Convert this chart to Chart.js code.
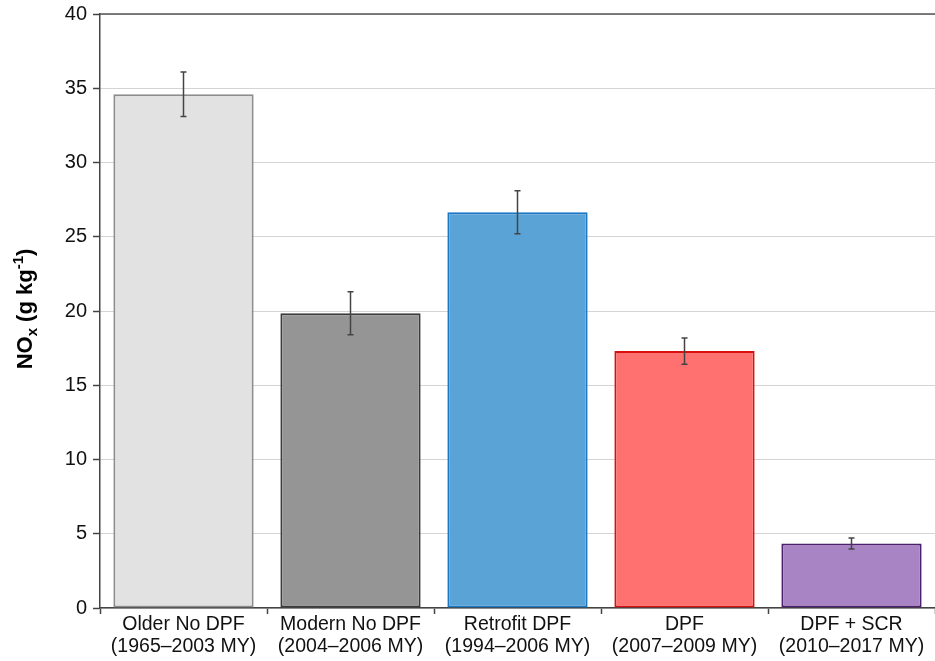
<!DOCTYPE html>
<html>
<head>
<meta charset="utf-8">
<script src="https://cdn.jsdelivr.net/npm/chart.js@4/dist/chart.umd.min.js"></script>
<style>
  html, body { margin: 0; padding: 0; background: #fff; }
  #wrap { width: 935px; height: 661px; }
</style>
</head>
<body>
<div id="wrap"><canvas id="chart" width="935" height="661"></canvas></div>
<script>
const categories = [
    ['Older No DPF', '(1965\u20132003 MY)'],
    ['Modern No DPF', '(2004\u20132006 MY)'],
    ['Retrofit DPF', '(1994\u20132006 MY)'],
    ['DPF', '(2007\u20132009 MY)'],
    ['DPF + SCR', '(2010\u20132017 MY)']
];
const noxMean = [34.6, 19.85, 26.65, 17.3, 4.35];
const noxErr = [1.5, 1.45, 1.45, 0.88, 0.37];
const fillColors = ['#e2e2e2', '#959595', '#5aa3d6', '#ff7070', '#a984c5'];
const borderColors = ['#8c8c8c', '#3c3c3c', '#1b78c4', '#d81010', '#4d1f6e'];

const FONT = '"Liberation Sans", Arial, sans-serif';

// error bars + frame + axis title
const extras = {
    id: 'extras',
    afterDatasetsDraw(chart) {
        const ctx = chart.ctx;
        const x = chart.scales.x, y = chart.scales.y;
        ctx.save();
        ctx.strokeStyle = '#444';
        ctx.lineWidth = 1.5;
        noxMean.forEach((v, i) => {
            const px = x.getPixelForValue(i);
            const top = y.getPixelForValue(v + noxErr[i]);
            const bot = y.getPixelForValue(v - noxErr[i]);
            ctx.beginPath();
            ctx.moveTo(px, top); ctx.lineTo(px, bot);
            ctx.moveTo(px - 3, top); ctx.lineTo(px + 3, top);
            ctx.moveTo(px - 3, bot); ctx.lineTo(px + 3, bot);
            ctx.stroke();
        });
        // top frame line
        const a = chart.chartArea;
        ctx.strokeStyle = '#555';
        ctx.lineWidth = 1.5;
        ctx.beginPath();
        ctx.moveTo(a.left, a.top); ctx.lineTo(a.right, a.top);
        ctx.stroke();

        // y title: NOx (g kg-1)
        ctx.translate(24, (a.top + a.bottom) / 2 - 2);
        ctx.rotate(-Math.PI / 2);
        ctx.fillStyle = '#000';
        ctx.textBaseline = 'alphabetic';
        const big = 'bold 22px ' + FONT;
        const small = 'bold 15px ' + FONT;
        const parts = [
            ['NO', big, 0], ['x', small, 5], [' (g kg', big, 0], ['-1', small, -9], [')', big, 0]
        ];
        let w = 0;
        parts.forEach(p => { ctx.font = p[1]; w += ctx.measureText(p[0]).width; });
        let cx = -w / 2;
        parts.forEach(p => {
            ctx.font = p[1];
            ctx.fillText(p[0], cx, 8 + p[2]);
            cx += ctx.measureText(p[0]).width;
        });
        ctx.restore();
    }
};

new Chart(document.getElementById('chart'), {
    type: 'bar',
    data: {
        labels: categories,
        datasets: [{
            data: noxMean,
            backgroundColor: fillColors,
            borderColor: borderColors,
            borderWidth: 2,
            borderSkipped: false,
            categoryPercentage: 1.0,
            barPercentage: 0.84
        }]
    },
    plugins: [extras],
    options: {
        responsive: false,
        animation: false,
        layout: { padding: { top: 14, right: 0, left: 0, bottom: 0 } },
        plugins: {
            legend: { display: false },
            tooltip: { enabled: false }
        },
        scales: {
            x: {
                afterFit(s) { s.height = 53; },
                grid: {
                    drawOnChartArea: false,
                    offset: true,
                    tickLength: 6,
                    tickColor: '#444',
                    tickWidth: 1.5
                },
                border: { color: '#444', width: 1.5 },
                ticks: {
                    color: '#111',
                    font: { family: FONT, size: 19.5, lineHeight: 1.13 },
                    padding: 0,
                    maxRotation: 0
                }
            },
            y: {
                min: 0,
                max: 40,
                afterFit(s) { s.width = 100; s.paddingTop = 0; s.paddingBottom = 0; },
                grid: {
                    color: '#a8a8a8',
                    lineWidth: 1,
                    tickColor: '#444',
                    tickLength: 7,
                    tickWidth: 1.5,
                    tickBorderDash: []
                },
                border: { color: '#444', width: 1.5, dash: [1, 1] },
                ticks: {
                    stepSize: 5,
                    color: '#111',
                    padding: 6,
                    font: { family: FONT, size: 20 }
                }
            }
        }
    }
});
</script>
</body>
</html>
